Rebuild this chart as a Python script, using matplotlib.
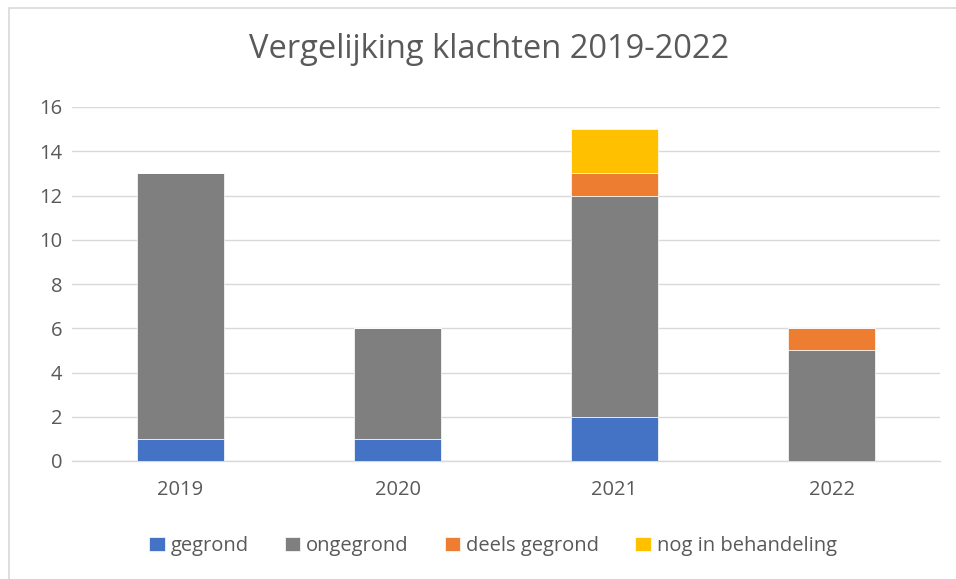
import matplotlib
matplotlib.use("Agg")
import matplotlib.pyplot as plt
from matplotlib.patches import Rectangle
import numpy as np

categories = ["2019", "2020", "2021", "2022"]
gegrond = [1, 1, 2, 0]
ongegrond = [12, 5, 10, 5]
deels_gegrond = [0, 0, 1, 1]
nog_in_behandeling = [0, 0, 2, 0]
series_names = ["gegrond", "ongegrond", "deels gegrond", "nog in behandeling"]
colors = ["#4472C4", "#7F7F7F", "#ED7D31", "#FFC000"]
yticks = [0, 2, 4, 6, 8, 10, 12, 14, 16]

plt.rcParams['font.family'] = ['Open Sans', 'DejaVu Sans']

W, H = 956, 579
fig = plt.figure(figsize=(W / 100, H / 100), dpi=100)
fig.patches.append(Rectangle((9 / W, -0.01), 1.1, 1 - 8 / H + 0.01, transform=fig.transFigure,
                             fill=False, edgecolor="#D9D9D9", linewidth=1.2))

ax = fig.add_axes([72 / W, 1 - 461 / H, (940 - 72) / W, (461 - 107) / H])
x = np.arange(len(categories))
bottom = np.zeros(len(categories))
for name, vals, c in zip(series_names, [gegrond, ongegrond, deels_gegrond, nog_in_behandeling], colors):
    ax.bar(x, vals, width=0.4, bottom=bottom, color=c, label=name, zorder=3,
           edgecolor="white", linewidth=0.5)
    bottom += np.array(vals)

ax.set_xlim(-0.5, len(categories) - 0.5)
ax.set_ylim(0, 16)
ax.set_yticks(yticks)
ax.set_xticks(x)
ax.set_xticklabels(categories)
ax.grid(axis="y", color="#D9D9D9", linewidth=1, zorder=0)
for s in ["top", "right", "left"]:
    ax.spines[s].set_visible(False)
ax.spines["bottom"].set_color("#D9D9D9")
ax.spines["bottom"].set_linewidth(1)
ax.tick_params(axis="both", length=0, colors="#595959", labelsize=14.5)
ax.tick_params(axis="y", pad=7)
ax.tick_params(axis="x", pad=14)

fig.text(489 / W, 1 - 50 / H, "Vergelijking klachten 2019-2022", ha="center", va="center",
         fontsize=23.5, color="#595959")

handles, labels = ax.get_legend_handles_labels()
fig.legend(handles, labels, loc="center", bbox_to_anchor=(493 / W, 1 - 546 / H), ncol=4,
           frameon=False, fontsize=14.5, handlelength=0.75, handleheight=0.75,
           handletextpad=0.3, columnspacing=1.8, labelcolor="#595959")

fig.savefig("out.png", dpi=100)
